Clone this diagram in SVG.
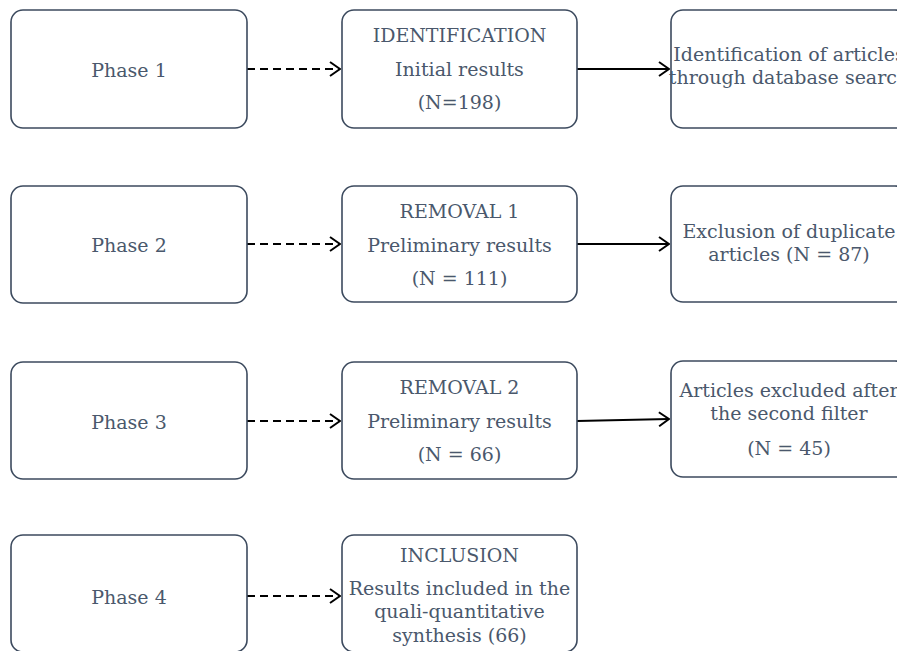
<svg xmlns="http://www.w3.org/2000/svg" width="897" height="651" viewBox="0 0 897 651">
<style>
.box{fill:#ffffff;stroke:#3c4a5e;stroke-width:1.6}
.t{font-family:"DejaVu Serif",serif;font-size:19px;fill:#4a586c;text-anchor:middle}
.dash{fill:none;stroke:#000;stroke-width:2;stroke-dasharray:8 5}
.solid{fill:none;stroke:#000;stroke-width:2}
</style>
<defs>
<marker id="arr" viewBox="0 0 12 16" refX="11" refY="8" markerWidth="12" markerHeight="16" markerUnits="userSpaceOnUse" orient="auto">
<path d="M1,1 L11,8 L1,15" fill="none" stroke="#000" stroke-width="2"/>
</marker>
</defs>
<rect width="897" height="651" fill="#ffffff"/>
<g id="connectors">
<line class="dash" x1="247" y1="69" x2="340" y2="69" marker-end="url(#arr)"/>
<line class="dash" x1="247" y1="244" x2="340" y2="244" marker-end="url(#arr)"/>
<line class="dash" x1="247" y1="421" x2="340" y2="421" marker-end="url(#arr)"/>
<line class="dash" x1="247" y1="596" x2="340" y2="596" marker-end="url(#arr)"/>
<line class="solid" x1="577" y1="69" x2="669" y2="69" marker-end="url(#arr)"/>
<line class="solid" x1="577" y1="244" x2="669" y2="244" marker-end="url(#arr)"/>
<line class="solid" x1="577" y1="421" x2="669" y2="419" marker-end="url(#arr)"/>
</g>
<g id="phase1"><rect class="box" x="11" y="10" width="236" height="118" rx="12"/><text class="t" x="129" y="77">Phase 1</text></g>
<g id="phase2"><rect class="box" x="11" y="186" width="236" height="117" rx="12"/><text class="t" x="129" y="252">Phase 2</text></g>
<g id="phase3"><rect class="box" x="11" y="362" width="236" height="117" rx="12"/><text class="t" x="129" y="429">Phase 3</text></g>
<g id="phase4"><rect class="box" x="11" y="535" width="236" height="117" rx="12"/><text class="t" x="129" y="604">Phase 4</text></g>
<g id="identification"><rect class="box" x="342" y="10" width="235" height="118" rx="12"/>
<text class="t" x="459.5" y="42">IDENTIFICATION</text>
<text class="t" x="459.5" y="76">Initial results</text>
<text class="t" x="459.5" y="109">(N=198)</text></g>
<g id="removal1"><rect class="box" x="342" y="186" width="235" height="116" rx="12"/>
<text class="t" x="459.5" y="218">REMOVAL 1</text>
<text class="t" x="459.5" y="252">Preliminary results</text>
<text class="t" x="459.5" y="285">(N = 111)</text></g>
<g id="removal2"><rect class="box" x="342" y="362" width="235" height="117" rx="12"/>
<text class="t" x="459.5" y="394">REMOVAL 2</text>
<text class="t" x="459.5" y="428">Preliminary results</text>
<text class="t" x="459.5" y="461">(N = 66)</text></g>
<g id="inclusion"><rect class="box" x="342" y="535" width="235" height="117" rx="12"/>
<text class="t" x="459.5" y="562">INCLUSION</text>
<text class="t" x="459.5" y="595">Results included in the</text>
<text class="t" x="459.5" y="618">quali-quantitative</text>
<text class="t" x="459.5" y="642">synthesis (66)</text></g>
<g id="search"><rect class="box" x="671" y="10" width="236" height="118" rx="12"/>
<text class="t" x="789" y="61">Identification of articles</text>
<text class="t" x="789" y="84">through database search</text></g>
<g id="duplicates"><rect class="box" x="671" y="186" width="236" height="116" rx="12"/>
<text class="t" x="789" y="238">Exclusion of duplicate</text>
<text class="t" x="789" y="261">articles (N = 87)</text></g>
<g id="filter2"><rect class="box" x="671" y="361" width="236" height="116" rx="12"/>
<text class="t" x="789" y="397">Articles excluded after</text>
<text class="t" x="789" y="420">the second filter</text>
<text class="t" x="789" y="455">(N = 45)</text></g>
</svg>
